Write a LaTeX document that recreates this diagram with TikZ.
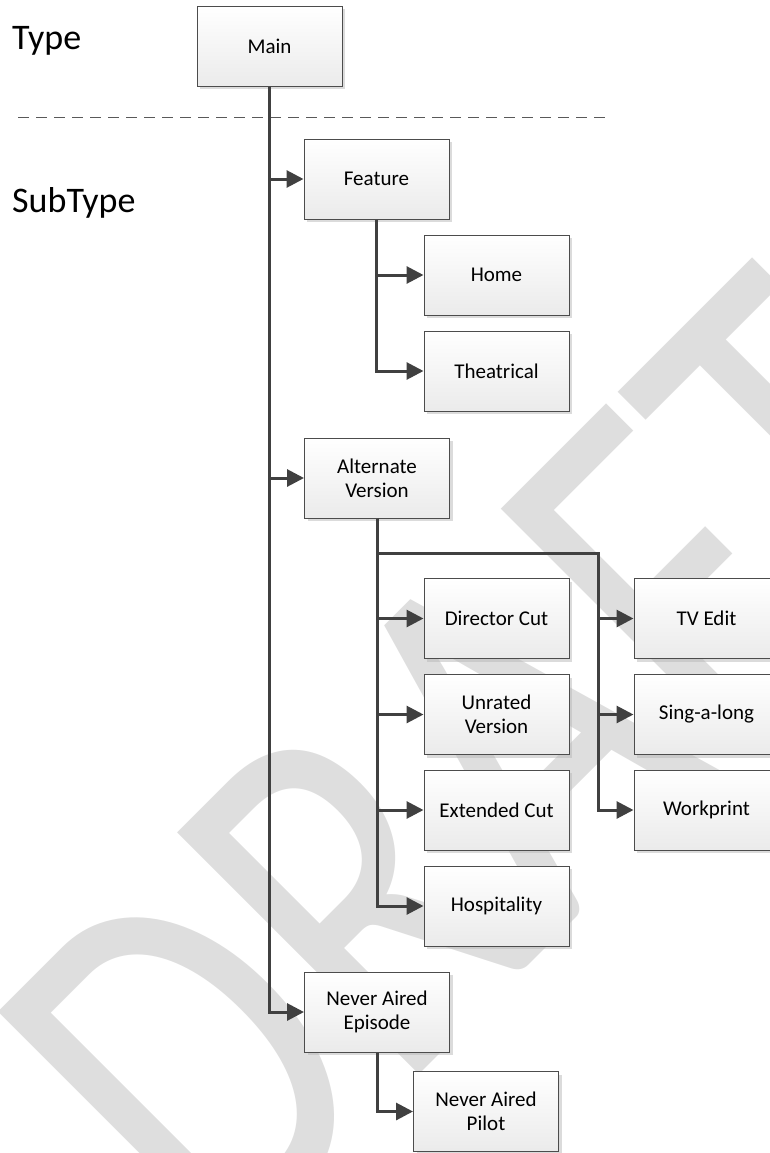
\documentclass[tikz,border=0pt]{standalone}
\usepackage{fontspec}
\setmainfont{Carlito}
\usetikzlibrary{arrows.meta}
\usetikzlibrary{shadows}
\newcommand{\boxfont}{\fontsize{21}{24}\selectfont}
\newcommand{\bandfont}{\fontsize{36}{40}\selectfont}
\newcommand{\markfont}{\fontsize{410}{410}\selectfont}

\begin{document}
\begin{tikzpicture}[x=1pt,y=-1pt,
    box/.style={rectangle,draw=black!70,line width=1pt,top color=white,bottom color=black!8,
      minimum width=145pt,minimum height=80pt,inner sep=0pt,align=center,font=\boxfont,
      drop shadow={shadow xshift=3pt,shadow yshift=-3pt,fill=black!28}},
    link/.style={draw=black!75,line width=3pt,-{Triangle[length=17pt,width=17pt]}},
    band/.style={anchor=base west,inner sep=0pt,font=\bandfont},
    rule/.style={draw=black!65,line width=1pt,dash pattern=on 11pt off 7pt}]
  \useasboundingbox (0,0) rectangle (770,1153);
  \clip (0,0) rectangle (770,1153);
  % watermark
  \node[rotate=45,yscale=1.3,anchor=base west,inner sep=0pt,text=black!13,font=\markfont] (draft) at (220,1274) {DRAFT};
  % levels
  \node[band] (type) at (12,50) {Type};
  \node[band] (subtype) at (12,212) {SubType};
  \coordinate (ruleL) at (18,118);
  \coordinate (ruleR) at (612,118);
  \draw[rule] (ruleL) -- (ruleR);
  % boxes
  \node[box] (main) at (269.5,46.5) {Main};
  \node[box] (feature) at (376.5,179) {Feature};
  \node[box] (home) at (496.5,275) {Home};
  \node[box] (theatrical) at (496.5,371) {Theatrical};
  \node[box] (alternate) at (377,478) {Alternate\\Version};
  \node[box] (director) at (496.5,618.5) {Director Cut};
  \node[box] (unrated) at (496.5,714.5) {Unrated\\Version};
  \node[box] (extended) at (496.5,810) {Extended Cut};
  \node[box] (hospitality) at (496.5,906) {Hospitality};
  \node[box] (tvedit) at (706.5,618.5) {TV Edit};
  \node[box] (singalong) at (706.5,714.5) {Sing-a-long};
  \node[box] (workprint) at (706.5,810) {Workprint};
  \node[box] (episode) at (377,1012) {Never Aired\\Episode};
  \node[box] (pilot) at (486,1111.5) {Never Aired\\Pilot};
  % connectors
  \foreach \n in {feature,alternate,episode}
    \draw[link] (main.south) |- (\n.west);
  \foreach \n in {home,theatrical}
    \draw[link] (feature.south) |- (\n.west);
  \foreach \n in {director,unrated,extended,hospitality}
    \draw[link] (alternate.south) |- (\n.west);
  \coordinate (fork) at (598,553);
  \foreach \n in {tvedit,singalong,workprint}
    \draw[link] (alternate.south) |- (fork) |- (\n.west);
  \draw[link] (episode.south) |- (pilot.west);
\end{tikzpicture}
\end{document}
